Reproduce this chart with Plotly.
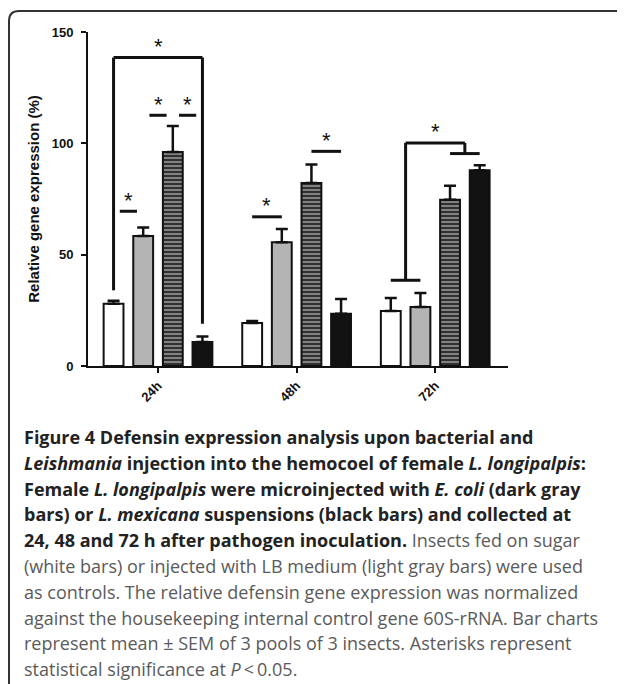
import plotly.graph_objects as go

# ---------------- data ----------------
groups = ["24h", "48h", "72h"]
series_names = ["Sugar-fed", "LB medium", "E. coli", "L. mexicana"]
sugar = [28.0, 19.3, 24.7]
sugar_sem = [1.3, 0.9, 5.8]
lb_medium = [58.4, 55.6, 26.5]
lb_medium_sem = [3.8, 5.9, 6.3]
e_coli = [96.1, 82.2, 74.7]
e_coli_sem = [11.7, 8.3, 6.2]
l_mexicana = [10.8, 23.5, 87.9]
l_mexicana_sem = [2.4, 6.6, 2.3]
y_ticks = [0, 50, 100, 150]

# significance lines: (group, bar_a, bar_b, y, inset)
sig_lines = [(0, 0, 1, 69.5, 0.045), (0, 1, 2, 112.6, 0.045), (0, 2, 3, 112.6, 0.045),
             (1, 0, 1, 67.0, 0.0), (1, 2, 3, 96.4, 0.0)]
# open bracket: (group, bar_a, bar_b, top, bottom_a, bottom_b)
sig_brackets = [(0, 0, 3, 138.5, 34.0, 19.0)]
# pair-vs-pair bracket: (group, low pair y, high pair y, top y)
sig_pair_brackets = [(2, 38.5, 95.4, 100.2)]

GRAY = "<span style='color:#5a5a5a'>"
caption_lines = [
    "<b>Figure 4 Defensin expression analysis upon bacterial and</b>",
    "<b><i>Leishmania</i> injection into the hemocoel of female <i>L. longipalpis</i>:</b>",
    "<b>Female <i>L. longipalpis</i> were microinjected with <i>E. coli</i> (dark gray</b>",
    "<b>bars) or <i>L. mexicana</i> suspensions (black bars) and collected at</b>",
    "<b>24, 48 and 72 h after pathogen inoculation.</b>" + GRAY + " Insects fed on sugar</span>",
    GRAY + "(white bars) or injected with LB medium (light gray bars) were used</span>",
    GRAY + "as controls. The relative defensin gene expression was normalized</span>",
    GRAY + "against the housekeeping internal control gene 60S-rRNA. Bar charts</span>",
    GRAY + "represent mean \u00b1 SEM of 3 pools of 3 insects. Asterisks represent</span>",
    GRAY + "statistical significance at <i>P</i>\u2009<\u20090.05.</span>",
]

# ---------------- layout constants ----------------
OFF = 8                     # page body margin
W, H = 625 - OFF, 684 - OFF
ML, MR, MT, MB = 88 - OFF, 117, 32 - OFF, 684 - 366
PW, PH = W - ML - MR, H - MT - MB
BARGAP, BARGROUPGAP = 0.145, 0.33
SLOT = (1 - BARGAP) / 4

def px_x(px):  # page pixel -> paper
    return (px - OFF - ML) / PW

def px_y(py):
    return (H - MB - (py - OFF)) / PH

def bar_x(g, j):
    return g + (j - 1.5) * SLOT

fig = go.Figure()
values = [sugar, lb_medium, e_coli, l_mexicana]
sems = [sugar_sem, lb_medium_sem, e_coli_sem, l_mexicana_sem]
fills = ["#ffffff", "#b4b4b4", "#3a3a3a", "#121212"]
xs = list(range(len(groups)))
for j in range(4):
    marker = dict(color=fills[j], line=dict(color="#111111", width=2))
    if j == 2:
        marker["pattern"] = dict(shape="-", fgcolor="#8a8a8a", bgcolor="#303030",
                                 size=4, solidity=0.45, fillmode="replace")
    fig.add_trace(go.Bar(
        x=xs, y=values[j], name=series_names[j], marker=marker,
        error_y=dict(type="data", array=sems[j], arrayminus=[0] * len(groups),
                     symmetric=False, color="#111111", thickness=2.5, width=6),
        showlegend=False,
    ))

shapes = []
annotations = []
line_style = dict(color="#111111", width=3)

def add_line(x0, y0, x1, y1):
    shapes.append(dict(type="line", xref="x", yref="y", x0=x0, y0=y0, x1=x1, y1=y1,
                       line=line_style, layer="above"))

def add_star(x, y):
    annotations.append(dict(x=x, y=y, xref="x", yref="y", text="*", showarrow=False,
                            yanchor="middle", xanchor="center", yshift=11,
                            font=dict(family="Liberation Sans, Arial", size=22, color="#111111")))

for g, a, b, y, inset in sig_lines:
    xa, xb = bar_x(g, a) + inset, bar_x(g, b) - inset
    add_line(xa, y, xb, y)
    add_star((xa + xb) / 2, y)

for g, a, b, top, ba, bb in sig_brackets:
    xa, xb = bar_x(g, a), bar_x(g, b)
    add_line(xa, ba, xa, top)
    add_line(xa, top, xb, top)
    add_line(xb, top, xb, bb)
    add_star((xa + xb) / 2, top)

for g, ylow, yhigh, top in sig_pair_brackets:
    xl0, xl1 = bar_x(g, 0), bar_x(g, 1)
    xh0, xh1 = bar_x(g, 2), bar_x(g, 3)
    ml, mh = (xl0 + xl1) / 2, (xh0 + xh1) / 2
    add_line(xl0, ylow, xl1, ylow)
    add_line(ml, ylow, ml, top)
    add_line(ml, top, mh, top)
    add_line(mh, top, mh, yhigh)
    add_line(xh0, yhigh, xh1, yhigh)
    add_star(g, top)

# rounded frame (top-left corner visible)
r = 10
xl, yt = px_x(9), px_y(11)
xr, yb = px_x(700), px_y(760)
rx, ry = r / PW, r / PH
shapes.append(dict(type="path", xref="paper", yref="paper",
                   path=f"M {xl},{yb} L {xl},{yt - ry} Q {xl},{yt} {xl + rx},{yt} L {xr},{yt}",
                   line=dict(color="#333333", width=2)))

# caption
for i, txt in enumerate(caption_lines):
    annotations.append(dict(x=px_x(22), y=px_y(437 + i * 25.8), xref="paper", yref="paper",
                            text=txt, showarrow=False, xanchor="left", yanchor="middle",
                            align="left",
                            font=dict(family="Open Sans", size=18, color="#222222")))

axis_font = dict(family="Liberation Sans, Arial", size=13, color="#111111", weight="bold")
fig.update_layout(
    width=W, height=H,
    margin=dict(l=ML, r=MR, t=MT, b=MB),
    paper_bgcolor="white", plot_bgcolor="white",
    barmode="group", bargap=BARGAP, bargroupgap=BARGROUPGAP,
    shapes=shapes, annotations=annotations,
    xaxis=dict(range=[-0.505, 2.525], tickvals=xs, ticktext=groups, tickangle=-45,
               showline=True, linecolor="#111111", linewidth=2, ticks="outside",
               ticklen=5, tickwidth=2, tickcolor="#111111", showgrid=False,
               zeroline=False, tickfont=axis_font, fixedrange=True),
    yaxis=dict(range=[0, 150], tickvals=y_ticks, showline=True, linecolor="#111111",
               linewidth=2, ticks="outside", ticklen=5, tickwidth=2, tickcolor="#111111",
               showgrid=False, zeroline=False, tickfont=axis_font, ticklabelstandoff=5,
               title=dict(text="Relative gene expression (%)", standoff=8,
                          font=dict(family="Liberation Sans, Arial", size=15,
                                    color="#111111", weight="bold"))),
)

fig.write_html("out.html")
